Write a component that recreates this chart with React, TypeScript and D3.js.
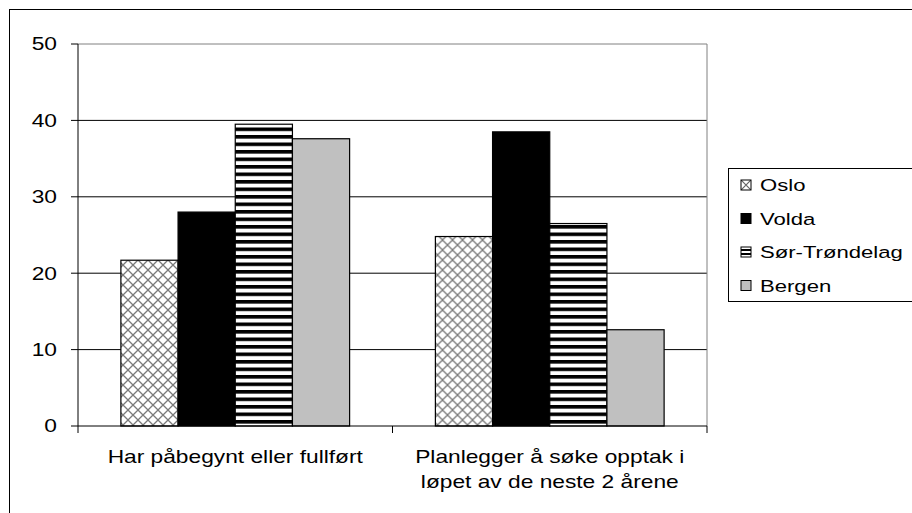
import React from 'react';
import * as d3 from 'd3';

// data
const categories = [
  ['Har påbegynt eller fullført'],
  ['Planlegger å søke opptak i', 'løpet av de neste 2 årene'],
];
const seriesNames = ['Oslo', 'Volda', 'Sør-Trøndelag', 'Bergen'];
const oslo = [21.7, 24.8];
const volda = [28.0, 38.5];
const sorTrondelag = [39.5, 26.5];
const bergen = [37.6, 12.6];
const yTicks = [0, 10, 20, 30, 40, 50];

const seriesValues = [oslo, volda, sorTrondelag, bergen];
const fills = ['url(#cross)', '#000000', 'url(#stripes)', '#c0c0c0'];
const legendFills = ['url(#crossSmall)', '#000000', 'url(#stripesSmall)', '#c0c0c0'];

const FONT = '"Liberation Sans", Arial, sans-serif';
const SX = 1.3;

const App = () => {
  const W = 912;
  const H = 513;
  const plot = { left: 78, right: 707, top: 44, bottom: 426 };

  const x0 = d3.scaleBand<number>()
    .domain(categories.map((_, i) => i))
    .range([plot.left, plot.right])
    .padding(0);

  const x1 = d3.scaleBand<number>()
    .domain(seriesNames.map((_, i) => i))
    .range([0, x0.bandwidth()])
    .paddingInner(0)
    .paddingOuter(0.75);

  const y = d3.scaleLinear().domain([0, 50]).range([plot.bottom, plot.top]);

  const legendRow = d3.scalePoint<number>()
    .domain(seriesNames.map((_, i) => i))
    .range([185, 285.5]);

  return (
    <svg width={W} height={H} style={{ position: 'absolute', left: 0, top: 0, display: 'block', background: '#fff' }}>
      <defs>
        <pattern id="cross" patternUnits="userSpaceOnUse" width="10" height="10">
          <rect width="10" height="10" fill="#fff" />
          <path d="M0,0 L10,10 M10,0 L0,10" stroke="#7a7a7a" strokeWidth="1.3" />
        </pattern>
        <pattern id="stripes" patternUnits="userSpaceOnUse" width="8" height="7.5">
          <rect width="8" height="7.5" fill="#fff" />
          <rect y="0" width="8" height="3.6" fill="#000" />
        </pattern>
        <pattern id="crossSmall" patternUnits="userSpaceOnUse" width="10" height="10" x="741" y="0">
          <rect width="10" height="10" fill="#fff" />
          <path d="M0,0 L10,10 M10,0 L0,10" stroke="#666" strokeWidth="1.2" />
        </pattern>
        <pattern id="stripesSmall" patternUnits="userSpaceOnUse" width="10" height="4" y="1">
          <rect width="10" height="4" fill="#fff" />
          <rect y="0" width="10" height="2" fill="#000" />
        </pattern>
      </defs>

      {/* chart border */}
      <rect x={9.5} y={9.5} width={W + 20} height={H + 20} fill="none" stroke="#000" strokeWidth={1} />

      {/* gridlines */}
      {yTicks.filter(t => t > 0).map(t => (
        <line key={t} x1={plot.left} x2={plot.right} y1={y(t)} y2={y(t)}
          stroke={t === 50 ? '#808080' : '#000'} strokeWidth={1} />
      ))}
      <line x1={plot.right} x2={plot.right} y1={plot.top} y2={plot.bottom} stroke="#808080" strokeWidth={1} />

      {/* bars */}
      {categories.map((_, ci) => (
        <g key={ci} transform={`translate(${x0(ci)},0)`}>
          {seriesValues.map((vals, si) => (
            <rect key={si}
              x={x1(si)} y={y(vals[ci])}
              width={x1.bandwidth()} height={y(0) - y(vals[ci])}
              fill={fills[si]} stroke="#000" strokeWidth={1.2} />
          ))}
        </g>
      ))}

      {/* axes */}
      <line x1={plot.left} x2={plot.left} y1={plot.top} y2={plot.bottom} stroke="#000" />
      <line x1={plot.left} x2={plot.right} y1={plot.bottom} y2={plot.bottom} stroke="#000" />
      {yTicks.map(t => (
        <g key={t}>
          <line x1={plot.left - 7} x2={plot.left} y1={y(t)} y2={y(t)} stroke="#000" />
          <text transform={`translate(57,${y(t)}) scale(${SX},1)`} textAnchor="end" dy="0.36em"
            fontFamily={FONT} fontSize={17.5} fill="#000">{t}</text>
        </g>
      ))}
      {[...categories.map((_, i) => x0(i)!), plot.right].map((xv, i) => (
        <line key={i} x1={xv} x2={xv} y1={plot.bottom} y2={plot.bottom + 7} stroke="#000" />
      ))}
      {categories.map((lines, ci) => (
        <g key={ci}>
          {lines.map((ln, li) => (
            <text key={li}
              transform={`translate(${x0(ci)! + x0.bandwidth() / 2},${463 + li * 25}) scale(${SX},1)`}
              textAnchor="middle" fontFamily={FONT} fontSize={17.5} fill="#000">{ln}</text>
          ))}
        </g>
      ))}

      {/* legend */}
      <rect x={728.5} y={168.5} width={250} height={133} fill="#fff" stroke="#000" strokeWidth={1} />
      {seriesNames.map((name, si) => {
        const cy = legendRow(si)!;
        return (
          <g key={name}>
            <rect x={741} y={cy - 5} width={10} height={10} fill={legendFills[si]} stroke="#000" strokeWidth={1} />
            <text transform={`translate(760,${cy}) scale(${SX},1)`} dy="0.36em"
              fontFamily={FONT} fontSize={17} fill="#000">{name}</text>
          </g>
        );
      })}
    </svg>
  );
};

export default App;
